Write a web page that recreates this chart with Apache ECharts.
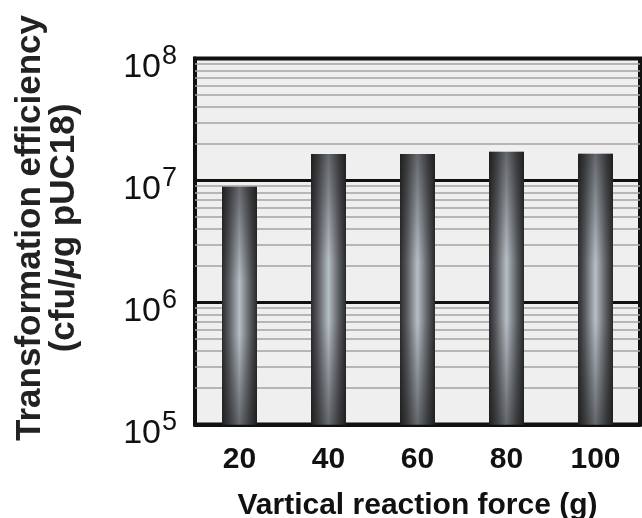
<!DOCTYPE html>
<html>
<head>
<meta charset="utf-8">
<script src="https://cdn.jsdelivr.net/npm/echarts@6/dist/echarts.min.js"></script>
<style>html,body{margin:0;padding:0;background:#fff;}#c{width:642px;height:518px;}</style>
</head>
<body>
<div id="c"></div>
<script>
// ---- data ----
var categories = ['20', '40', '60', '80', '100'];
var efficiency = [8.9e6, 1.65e7, 1.65e7, 1.72e7, 1.66e7];
var decadeExponents = [5, 6, 7]; // decades that carry minor gridlines
var minorMultipliers = [2, 3, 4, 5, 6, 7, 8, 9];
var xTitle = 'Vartical reaction force (g)';
var yTitleLine1 = 'Transformation efficiency';
var yTitleLine2 = '(cfu/{i|μ}g pUC18)';

var minorLines = [];
decadeExponents.forEach(function (e) {
  minorMultipliers.forEach(function (m) {
    minorLines.push({ yAxis: m * Math.pow(10, e) });
  });
});

var chart = echarts.init(document.getElementById('c'), null, { renderer: 'canvas' });
var font = 'Liberation Sans, Arial, Helvetica, sans-serif';

chart.setOption({
  animation: false,
  backgroundColor: '#ffffff',
  grid: {
    left: 195, right: 2, top: 58.5, bottom: 93.5,
    outerBoundsMode: 'none',
    containLabel: false,
    show: true, backgroundColor: '#efefef', borderColor: '#111', borderWidth: 4
  },
  xAxis: {
    type: 'category',
    data: categories,
    axisLine: { show: true, lineStyle: { color: '#111', width: 4 } },
    axisTick: { show: false },
    axisLabel: { margin: 20, fontSize: 30, fontWeight: 'bold', color: '#111', fontFamily: font },
    name: xTitle,
    nameLocation: 'middle',
    nameGap: 66,
    nameTextStyle: { fontSize: 30, fontWeight: 'bold', color: '#111', fontFamily: font }
  },
  yAxis: {
    type: 'log',
    logBase: 10,
    min: 1e5,
    max: 1e8,
    axisLine: { show: true, lineStyle: { color: '#111', width: 4 } },
    axisTick: { show: false },
    splitLine: { show: true, lineStyle: { color: '#111', width: 3 } },
    axisLabel: {
      margin: 18,
      color: '#111',
      fontFamily: font,
      padding: [18, 0, 0, 0],
      formatter: function (v) {
        return '{b|10}{s|' + Math.round(Math.log10(v)) + '}';
      },
      rich: {
        b: { fontSize: 34, fontFamily: font, color: '#111', lineHeight: 34, verticalAlign: 'bottom' },
        s: { fontSize: 27, fontFamily: font, color: '#111', lineHeight: 27, verticalAlign: 'bottom', padding: [0, 0, 14, 1] }
      }
    }
  },
  graphic: [{
    type: 'text',
    x: 47,
    y: 228,
    rotation: Math.PI / 2,
    style: {
      text: yTitleLine1 + '\n' + yTitleLine2,
      fontSize: 35,
      fontWeight: 'bold',
      fontFamily: font,
      fill: '#222',
      align: 'center',
      verticalAlign: 'middle',
      lineHeight: 34,
      rich: {
        i: { fontStyle: 'italic', fontSize: 35, fontWeight: 'bold', fontFamily: font, fill: '#222', lineHeight: 34 }
      }
    }
  }],
  series: [
    {
      type: 'line',
      data: [],
      silent: true,
      markLine: {
        z: 1,
        silent: true,
        symbol: 'none',
        label: { show: false },
        lineStyle: { color: '#a3a3a3', width: 1.6, type: 'solid' },
        data: minorLines
      }
    },
    {
      type: 'bar',
      data: efficiency,
      barWidth: 35,
      z: 3,
      itemStyle: {
        color: {
          type: 'linear', x: 0, y: 0, x2: 1, y2: 0,
          colorStops: [
            { offset: 0, color: '#2a2a2c' },
            { offset: 0.2, color: '#5a5c60' },
            { offset: 0.5, color: '#b6bec6' },
            { offset: 0.8, color: '#5a5c60' },
            { offset: 1, color: '#2a2a2c' }
          ]
        }
      }
    },
    {
      type: 'bar',
      data: efficiency,
      barWidth: 35,
      barGap: '-100%',
      z: 4,
      silent: true,
      itemStyle: {
        color: {
          type: 'linear', x: 0, y: 0, x2: 0, y2: 1,
          colorStops: [
            { offset: 0, color: 'rgba(20,20,20,0.5)' },
            { offset: 0.4, color: 'rgba(20,20,20,0.0)' },
            { offset: 0.62, color: 'rgba(20,20,20,0.0)' },
            { offset: 1, color: 'rgba(20,20,20,0.5)' }
          ]
        }
      }
    }
  ]
});
</script>
</body>
</html>
